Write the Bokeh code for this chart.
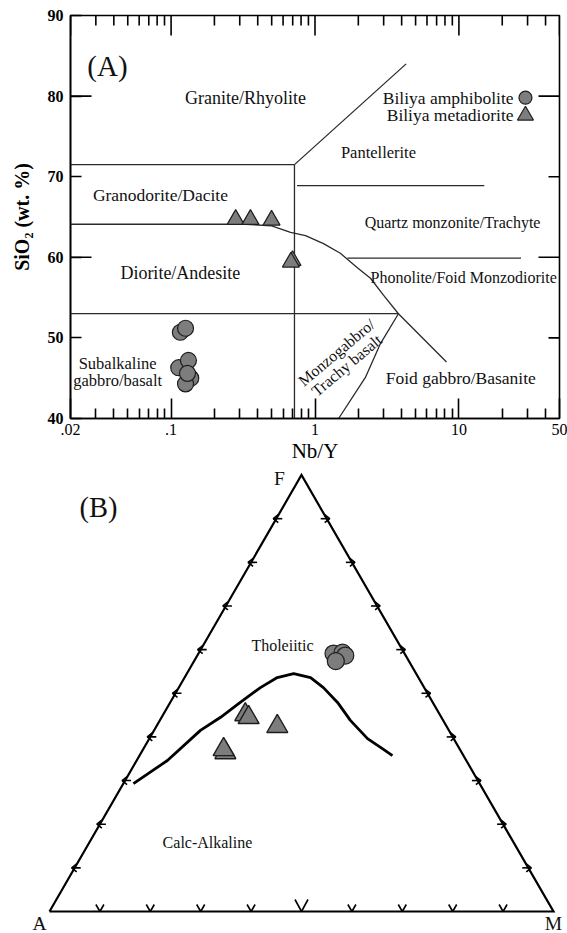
import numpy as np
from bokeh.plotting import figure
from bokeh.layouts import column
from bokeh.models import LogAxis, LinearAxis, FixedTicker, Range1d, BasicTickFormatter
from bokeh.core.properties import value
from bokeh.embed import file_html
from bokeh.resources import INLINE

FONT = "Liberation Serif"

# ---------------- Panel A data (Nb/Y vs SiO2) ----------------
amph_nby = [0.116, 0.126, 0.113, 0.132, 0.137, 0.126, 0.130]
amph_sio2 = [50.7, 51.2, 46.3, 47.2, 45.0, 44.3, 45.6]
meta_nby = [0.281, 0.356, 0.499, 0.698, 0.680]
meta_sio2 = [64.7, 64.7, 64.6, 59.6, 59.4]

x_major = [0.02, 0.1, 1, 10, 50]
x_major_labels = [".02", ".1", "1", "10", "50"]
x_minor = [0.03, 0.04, 0.05, 0.06, 0.07, 0.08, 0.09,
           0.2, 0.3, 0.4, 0.5, 0.6, 0.7, 0.8, 0.9,
           2, 3, 4, 5, 6, 7, 8, 9, 20, 30, 40]
y_major = [40, 50, 60, 70, 80, 90]
y_long = [60, 80]
y_short = [50, 70]

# field boundaries (x = Nb/Y, y = SiO2)
bnd_lines_x = [
    [0.02, 0.72],
    [0.72, 0.72],
    [0.72, 4.3],
    [0.75, 15],
    [1.68, 27],
    [0.02, 3.8],
    [3.8, 2.85, 2.24, 1.46],
    [0.02, 0.33, 0.5, 0.676, 0.859, 1.146, 1.50, 1.97, 2.43, 2.99, 3.80, 8.2],
]
bnd_lines_y = [
    [71.5, 71.5],
    [71.5, 40],
    [71.5, 84.0],
    [68.9, 68.9],
    [59.9, 59.9],
    [53.0, 53.0],
    [53.0, 49.3, 45.1, 40.0],
    [64.1, 64.1, 63.9, 63.1, 62.7, 61.7, 60.5, 58.7, 57.4, 55.3, 53.0, 47.0],
]

field_labels = ["Granite/Rhyolite", "Pantellerite", "Granodorite/Dacite",
                "Quartz monzonite/Trachyte", "Diorite/Andesite",
                "Phonolite/Foid Monzodiorite", "Subalkaline", "gabbro/basalt",
                "Foid gabbro/Basanite"]
field_x = [0.329, 2.76, 0.0843, 9.03, 0.116, 10.8, 0.0425, 0.0425, 10.3]
field_y = [79.8, 73.0, 67.7, 64.3, 58.0, 57.5, 46.8, 44.7, 45.0]
field_font_px = [18, 16.5, 17.5, 16, 18, 16, 16.5, 16.5, 17.5]   # style only

rot_labels = ["Monzogabbro/", "Trachy basalt"]
rot_x = [1.41, 1.66]
rot_y = [48.2, 46.6]

legend_labels = ["Biliya amphibolite", "Biliya metadiorite"]

# ---------------- Panel B data (AFM ternary, %) ----------------
curve_A = [68.7, 59.3, 49.3, 43.8, 38.2, 32.5, 28.0, 24.3, 21.4, 20.0, 18.9, 18.4, 17.1, 15.3, 14.1]
curve_F = [29.3, 34.6, 41.5, 44.5, 47.9, 51.3, 53.6, 54.5, 53.6, 51.3, 47.9, 43.8, 39.6, 37.3, 35.7]
curve_M = [2.0, 6.1, 9.2, 11.7, 13.9, 16.2, 18.4, 21.2, 25.0, 28.7, 33.2, 37.8, 43.3, 47.4, 50.2]

tri_A = [38.6, 38.3, 33.6, 46.9, 46.9]
tri_F = [45.1, 44.5, 42.4, 36.4, 37.1]
tri_M = [16.3, 17.3, 24.0, 16.7, 16.0]

cir_A = [14.1, 12.2, 12.0, 14.6]
cir_F = [59.1, 59.3, 58.7, 57.7]
cir_M = [26.8, 28.5, 29.4, 28.3]

tick_fracs = [0.1, 0.2, 0.3, 0.4, 0.5, 0.6, 0.7, 0.8, 0.9]

FILL = "#7d7d7d"
EDGE = "#1e1e1e"
LW = 1.6
TXT = "#111111"

# ================= Panel A =================
pA = figure(width=567, height=467, x_axis_type="log",
            x_range=Range1d(0.02, 50), y_range=Range1d(40, 90),
            min_border_left=70, min_border_right=8, min_border_top=15,
            min_border_bottom=49, x_axis_location=None, y_axis_location=None,
            output_backend="svg", toolbar_location=None)
pA.frame_align = False
pA.grid.visible = False
pA.outline_line_color = "black"
pA.outline_line_width = LW
pA.outline_line_alpha = 1.0
pA.background_fill_color = "white"
pA.border_fill_color = "white"

overrides = {v: l for v, l in zip(x_major, x_major_labels)}


def style_axis(ax, tick_in, minor_in):
    ax.major_tick_in = tick_in
    ax.major_tick_out = 0
    ax.minor_tick_in = minor_in
    ax.minor_tick_out = 0
    ax.axis_line_width = LW
    ax.axis_line_color = "black"
    ax.major_tick_line_width = LW
    ax.minor_tick_line_width = LW
    ax.major_tick_line_color = "black"
    ax.minor_tick_line_color = "black"
    ax.major_label_text_font = FONT
    ax.major_label_text_color = "black"
    ax.axis_label_text_color = "black"
    ax.axis_label_text_font = FONT


xb = LogAxis(ticker=FixedTicker(ticks=x_major, minor_ticks=x_minor),
             formatter=BasicTickFormatter(), axis_label="Nb/Y")
style_axis(xb, 20, 10)
xb.major_label_overrides = overrides
xb.major_label_text_font_size = "16px"
xb.major_label_standoff = 5
xb.axis_label_text_font_size = "21px"
xb.axis_label_text_font_style = "normal"
xb.axis_label_standoff = 1
pA.add_layout(xb, "below")

yl = LinearAxis(ticker=FixedTicker(ticks=y_major), axis_label="SiO\u2082 (wt. %)")
style_axis(yl, 11, 0)
yl.major_label_text_font_size = "16px"
yl.major_label_text_font_style = "bold"
yl.major_label_standoff = 7
yl.axis_label_text_font_size = "20px"
yl.axis_label_text_font_style = "bold"
yl.axis_label_standoff = 12
pA.add_layout(yl, "left")

# mirrored ticks on top and right edges of the frame
pA.ray(x=x_minor, y=[90] * len(x_minor), length=10, length_units="screen",
       angle=-np.pi / 2, line_color="black", line_width=LW)
pA.ray(x=x_major, y=[90] * len(x_major), length=20, length_units="screen",
       angle=-np.pi / 2, line_color="black", line_width=LW)
pA.ray(x=[50] * len(y_short), y=y_short, length=11, length_units="screen",
       angle=np.pi, line_color="black", line_width=LW)
# longer ticks at 60 and 80
pA.ray(x=[0.02] * len(y_long), y=y_long, length=21, length_units="screen",
       angle=0, line_color="black", line_width=LW)
pA.ray(x=[50] * len(y_long), y=y_long, length=21, length_units="screen",
       angle=np.pi, line_color="black", line_width=LW)

pA.multi_line(xs=bnd_lines_x, ys=bnd_lines_y, line_color="#2a2a2a", line_width=1.3)

for lab, lx, ly, fs in zip(field_labels, field_x, field_y, field_font_px):
    pA.text(x=[lx], y=[ly], text=[lab], text_font=value(FONT),
            text_font_size=value(f"{fs}px"), text_align="center",
            text_baseline="middle", text_color=TXT)
pA.text(x=rot_x, y=rot_y, text=rot_labels, text_font=value(FONT),
        text_font_size=value("16px"), text_align="center",
        text_baseline="middle", angle=0.70, text_color=TXT)
pA.text(x=[0.0361], y=[83.7], text=["(A)"], text_font=value(FONT),
        text_font_size=value("29px"), text_align="center", text_baseline="middle",
        text_color=TXT)

# legend
pA.text(x=[23.97, 23.97], y=[79.8, 77.6], text=legend_labels, text_font=value(FONT),
        text_font_size=value("17.5px"), text_align="right", text_baseline="middle",
        text_color=TXT)
pA.scatter(x=[29.0], y=[79.8], marker="circle", size=13, fill_color=FILL,
           line_color=EDGE, line_width=1.2)
pA.scatter(x=[29.0], y=[77.6], marker="triangle", size=16, fill_color=FILL,
           line_color=EDGE, line_width=1.2)

pA.scatter(x=amph_nby, y=amph_sio2, marker="circle", size=16, fill_color=FILL,
           line_color=EDGE, line_width=1.2)
pA.scatter(x=meta_nby, y=meta_sio2, marker="triangle", size=17, fill_color=FILL,
           line_color=EDGE, line_width=1.2)

# ================= Panel B =================
S3 = np.sqrt(3) / 2


def tern(A, F, M):
    A = np.asarray(A, float); F = np.asarray(F, float); M = np.asarray(M, float)
    tot = A + F + M
    f = F / tot
    m = M / tot
    return (m + f / 2).tolist(), (f * S3).tolist()


PX = 1 / 504.0
pB = figure(width=567, height=466, x_range=Range1d(-0.0972, 1.0278),
            y_range=Range1d(-0.04365, 0.8810), min_border=0,
            x_axis_location=None, y_axis_location=None,
            output_backend="svg", toolbar_location=None)
pB.frame_align = False
pB.grid.visible = False
pB.outline_line_color = None
pB.border_fill_color = "white"

tx, ty = tern([100, 0, 0, 100], [0, 100, 0, 0], [0, 0, 100, 0])
pB.line(tx, ty, line_color="black", line_width=2.2, line_join="miter")

# ticks (arrow-like chevrons)
txs, tys = [], []
for f in tick_fracs:
    lx, ly = tern([1 - f], [f], [0])
    ax_, ay_ = lx[0] - 3 * PX, ly[0]
    txs.append([ax_ + 5 * PX, ax_, ax_ + 5 * PX]); tys.append([ay_ + 4 * PX, ay_, ay_ - 4 * PX])
    txs.append([ax_, ax_ + 9 * PX]); tys.append([ay_, ay_])
    rx, ry = tern([0], [f], [1 - f])
    bx_, by_ = rx[0] + 3 * PX, ry[0]
    txs.append([bx_ - 5 * PX, bx_, bx_ - 5 * PX]); tys.append([by_ + 4 * PX, by_, by_ - 4 * PX])
    txs.append([bx_, bx_ - 9 * PX]); tys.append([by_, by_])
    mx, my = tern([1 - f], [0], [f])
    w, h = (6.5, 12) if abs(f - 0.5) < 1e-9 else (4, 7)
    txs.append([mx[0] - w * PX, mx[0], mx[0] + w * PX]); tys.append([my[0] + h * PX, my[0], my[0] + h * PX])
pB.multi_line(xs=txs, ys=tys, line_color="black", line_width=1.6)

cx, cy = tern(curve_A, curve_F, curve_M)
pB.line(cx, cy, line_color="black", line_width=2.8)

trx, try_ = tern(tri_A, tri_F, tri_M)
pB.scatter(x=trx, y=try_, marker="triangle", size=21, fill_color=FILL,
           line_color=EDGE, line_width=1.4)
crx, cry = tern(cir_A, cir_F, cir_M)
pB.scatter(x=crx, y=cry, marker="circle", size=17, fill_color=FILL,
           line_color=EDGE, line_width=1.2)

pB.text(x=[0.4563, -0.0198, 1.0], y=[0.859, -0.0238, -0.0238], text=["F", "A", "M"],
        text_font=value(FONT), text_font_size=value("19.5px"), text_align="center",
        text_baseline="middle", text_color=TXT)
pB.text(x=[0.0972], y=[0.8016], text=["(B)"], text_font=value(FONT),
        text_font_size=value("28.5px"), text_align="center", text_baseline="middle",
        text_color=TXT)
pB.text(x=[0.4623, 0.3135], y=[0.5278, 0.137], text=["Tholeiitic", "Calc-Alkaline"],
        text_font=value(FONT), text_font_size=value("16px"), text_align="center",
        text_baseline="middle", text_color=TXT)

layout = column(pA, pB, spacing=0)
open("out.html", "w").write(file_html(layout, INLINE))
